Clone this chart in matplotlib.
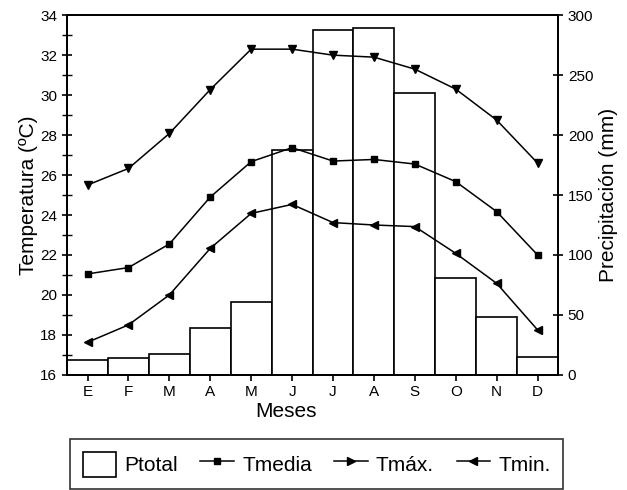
import numpy as np
import matplotlib
matplotlib.use('Agg')
import matplotlib.pyplot as plt
from matplotlib.patches import Patch
from matplotlib.lines import Line2D
from matplotlib.ticker import MultipleLocator

plt.rcParams['font.family'] = ['Liberation Sans', 'DejaVu Sans']

# datos
meses = ['E', 'F', 'M', 'A', 'M', 'J', 'J', 'A', 'S', 'O', 'N', 'D']
ptotal = [12.5, 14.4, 17.5, 39.4, 60.5, 187.5, 287.5, 289.4, 234.7, 80.5, 48.6, 15.3]
tmedia = [21.05, 21.37, 22.55, 24.9, 26.67, 27.37, 26.7, 26.78, 26.55, 25.67, 24.17, 22.0]
tmax = [25.5, 26.33, 28.08, 30.28, 32.3, 32.3, 32.0, 31.9, 31.3, 30.3, 28.75, 26.6]
tmin = [17.63, 18.5, 20.0, 22.33, 24.08, 24.53, 23.62, 23.5, 23.42, 22.08, 20.58, 18.25]

x = np.arange(len(meses))

fig = plt.figure(figsize=(6.27, 4.9), dpi=100)
ax = fig.add_axes([0.107, 0.235, 0.783, 0.734])
ax2 = ax.twinx()

# barras de precipitacion en el eje derecho
ax2.bar(x, ptotal, width=1.0, facecolor='white', edgecolor='black', linewidth=1.2)
ax2.set_ylim(0, 300)
ax2.yaxis.set_major_locator(MultipleLocator(50))
ax2.set_ylabel('Precipitación (mm)', fontsize=15, labelpad=4)

# temperaturas encima de las barras
ax.set_zorder(ax2.get_zorder() + 1)
ax.patch.set_visible(False)
ax.plot(x, tmedia, '-', color='black', marker='s', ms=5, lw=1.1)
ax.plot(x, tmax, '-', color='black', marker='v', ms=6, lw=1.1)
ax.plot(x, tmin, '-', color='black', marker='<', ms=6, lw=1.1)
ax.set_ylim(16, 34)
ax.set_xlim(-0.5, 11.5)
ax.yaxis.set_major_locator(MultipleLocator(2))
ax.yaxis.set_minor_locator(MultipleLocator(1))
ax.set_xticks(x)
ax.set_xticklabels(meses)
ax.set_ylabel('Temperatura (ºC)', fontsize=15, labelpad=2)
ax.set_xlabel('Meses', fontsize=15)
ax.xaxis.set_label_coords(0.445, -0.075)

for a in (ax, ax2):
    for s in a.spines.values():
        s.set_linewidth(1.3)
    a.tick_params(direction='inout', length=7, width=1.2, labelsize=11)
ax.tick_params(axis='y', which='minor', direction='inout', length=7, width=1.0)
ax.tick_params(axis='x', length=4, direction='out')

handles = [Patch(facecolor='white', edgecolor='black', linewidth=1.2),
           Line2D([], [], color='black', marker='s', ms=5, lw=1.1),
           Line2D([], [], color='black', marker='>', ms=6, lw=1.1),
           Line2D([], [], color='black', marker='<', ms=6, lw=1.1)]
labels = ['Ptotal', 'Tmedia', 'Tmáx.', 'Tmin.']
leg = fig.legend(handles, labels, ncol=4, loc='upper left',
                 bbox_to_anchor=(0.112, -0.02, 0.786, 0.124), mode='expand',
                 fontsize=15, frameon=True, fancybox=False, edgecolor='black',
                 handlelength=1.6, handleheight=1.5, handletextpad=0.4,
                 columnspacing=0.8, borderaxespad=0, borderpad=0.6)
leg.get_frame().set_linewidth(1.2)

fig.savefig('out.png', dpi=100)
